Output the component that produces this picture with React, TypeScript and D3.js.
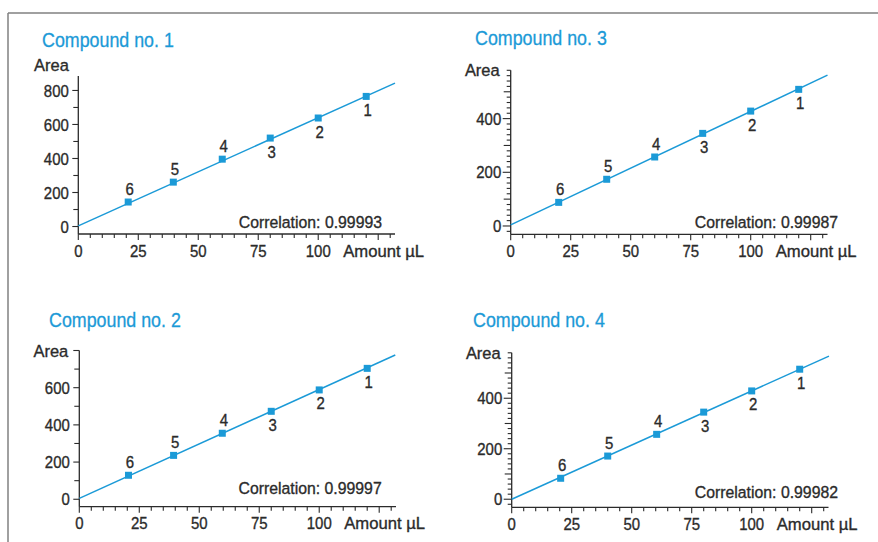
import React from 'react';
import * as d3 from 'd3';

// values
const titles = ['Compound no. 1', 'Compound no. 3', 'Compound no. 2', 'Compound no. 4'];
const correlations = ['0.99993', '0.99987', '0.99997', '0.99982'];
const pointLabels = ['1', '2', '3', '4', '5', '6'];

const amounts1 = [120, 100, 80, 60, 39.6, 20.8];
const areas1 = [765, 638, 520, 396, 261, 144];
const amounts3 = [120, 100, 80, 60, 40, 20];
const areas3 = [509, 428, 345, 257, 174, 88];
const amounts2 = [120, 100, 80, 59.6, 39.3, 20.5];
const areas2 = [704, 588, 473, 355, 236, 129];
const amounts4 = [120, 100, 80, 60.4, 40, 20.4];
const areas4 = [515, 429, 345, 257, 171, 83];

// fitted lines: two end points each
const fitX1 = [0, 132];
const fitY1 = [4, 843];
const fitX3 = [0, 132];
const fitY3 = [4, 562];
const fitX2 = [0, 131.7];
const fitY2 = [5, 776];
const fitX4 = [0, 132.2];
const fitY4 = [0, 567];

const xTickLabels = [0, 25, 50, 75, 100];
const yTickLabels1 = [0, 200, 400, 600, 800];
const yTickLabels3 = [0, 200, 400];
const yTickLabels2 = [0, 200, 400, 600];
const yTickLabels4 = [0, 200, 400];

const BLUE = '#1b9ad7';
const INK = '#2b2b2b';
const FONT = '"Liberation Sans", Arial, sans-serif';

const panels = [
  {
    title: titles[0], titlePos: [42, 47], amounts: amounts1, areas: areas1, fitX: fitX1, fitY: fitY1,
    yLabels: yTickLabels1, corr: correlations[0], corrPos: [382, 228],
    xRange: [78.3, 395], yRange: [234, 76], yDomain: [-44, 885],
    yMinor: 100, yMedium: 0, yMajor: 200, tickLen: [6, 6, 5], areaPos: [34, 71],
  },
  {
    title: titles[1], titlePos: [475, 45], amounts: amounts3, areas: areas3, fitX: fitX3, fitY: fitY3,
    yLabels: yTickLabels3, corr: correlations[1], corrPos: [838, 228],
    xRange: [510.7, 827.5], yRange: [234.3, 70.3], yDomain: [-31, 580],
    yMinor: 20, yMedium: 100, yMajor: 200, tickLen: [8, 7, 4], areaPos: null,
  },
  {
    title: titles[2], titlePos: [49, 327], amounts: amounts2, areas: areas2, fitX: fitX2, fitY: fitY2,
    yLabels: yTickLabels2, corr: correlations[2], corrPos: [381.7, 494.3],
    xRange: [79.3, 396], yRange: [506.7, 350.5], yDomain: [-40, 800],
    yMinor: 100, yMedium: 0, yMajor: 200, tickLen: [6, 6, 5], areaPos: null,
  },
  {
    title: titles[3], titlePos: [473, 326.7], amounts: amounts4, areas: areas4, fitX: fitX4, fitY: fitY4,
    yLabels: yTickLabels4, corr: correlations[3], corrPos: [838, 498.3],
    xRange: [511.7, 828.5], yRange: [507.3, 352.8], yDomain: [-32, 580],
    yMinor: 20, yMedium: 100, yMajor: 200, tickLen: [8, 7, 4], areaPos: null,
  },
];

// the original face is a condensed one, so squeeze horizontally and thicken a little
function Label({ x, y, children, anchor = 'start', dy = '0', size = 17, sx = 0.88, fill = INK, weight = 0.35 }: any) {
  return (
    <text
      transform={`translate(${x},${y}) scale(${sx},1)`}
      dy={dy}
      textAnchor={anchor}
      fontSize={size}
      fill={fill}
      stroke={fill}
      strokeWidth={weight}
    >
      {children}
    </text>
  );
}

function Panel({ p }: { p: any }) {
  const x = d3.scaleLinear().domain([0, 132]).range(p.xRange);
  const y = d3.scaleLinear().domain(p.yDomain).range(p.yRange);
  const [xl, xr] = p.xRange;
  const [yb, yt] = p.yRange;

  const line = d3.line<number>().x((d) => x(d)).y((d, i) => y(p.fitY[i]));

  const yTicks = d3
    .range(Math.ceil(p.yDomain[0] / p.yMinor), Math.floor(p.yDomain[1] / p.yMinor) + 1)
    .map((k) => k * p.yMinor);
  const xTicks = d3.range(0, 27).map((k) => k * 5);
  const topTick = yTicks[yTicks.length - 1];

  const tickLen = (v: number) =>
    v % p.yMajor === 0 ? p.tickLen[0] : p.yMedium && v % p.yMedium === 0 ? p.tickLen[1] : p.tickLen[2];

  return (
    <g>
      <Label x={p.titlePos[0]} y={p.titlePos[1]} fill={BLUE} size={21} sx={0.85} weight={0.3}>
        {p.title}
      </Label>

      {/* axes */}
      <line x1={xl} x2={xl} y1={yb} y2={yt} stroke={INK} strokeWidth={1.3} />
      <line x1={xl} x2={xr} y1={yb} y2={yb} stroke={INK} strokeWidth={1.3} />

      {yTicks.map((v) => (
        <line key={'y' + v} x1={xl - tickLen(v)} x2={xl} y1={y(v)} y2={y(v)} stroke={INK} strokeWidth={1.1} />
      ))}
      {p.yLabels.map((v: number) => (
        <Label key={'yl' + v} x={xl - 9.5} y={y(v)} dy="0.36em" anchor="end">
          {v}
        </Label>
      ))}
      {p.areaPos ? (
        <Label x={p.areaPos[0]} y={p.areaPos[1]} sx={0.97}>Area</Label>
      ) : (
        <Label x={xl - 11} y={y(topTick)} dy="0.36em" anchor="end" sx={0.97}>Area</Label>
      )}

      {xTicks.map((v) => (
        <line key={'x' + v} x1={x(v)} x2={x(v)} y1={yb} y2={yb + (v % 25 === 0 ? 6 : 4)} stroke={INK} strokeWidth={1.1} />
      ))}
      {xTickLabels.map((v) => (
        <Label key={'xl' + v} x={x(v)} y={yb + 22.5} anchor="middle">
          {v}
        </Label>
      ))}
      <Label x={x(110.4)} y={yb + 22.5} sx={0.98}>Amount µL</Label>

      {/* fit line and points */}
      <path d={line(p.fitX) || ''} fill="none" stroke={BLUE} strokeWidth={1.5} />
      {p.amounts.map((a: number, i: number) => (
        <rect key={'p' + i} x={x(a) - 3.5} y={y(p.areas[i]) - 3.5} width={7} height={7} fill={BLUE} />
      ))}
      {p.amounts.map((a: number, i: number) => (
        <Label key={'pl' + i} x={x(a) + 1.5} y={y(p.areas[i]) + (i < 3 ? 19.5 : -7)} anchor="middle">
          {pointLabels[i]}
        </Label>
      ))}

      <Label x={p.corrPos[0]} y={p.corrPos[1]} anchor="end" sx={0.93}>
        {'Correlation: ' + p.corr}
      </Label>
    </g>
  );
}

export default function App() {
  return (
    <svg
      width={878}
      height={542}
      style={{ position: 'absolute', left: 0, top: 0, background: '#fff' }}
      fontFamily={FONT}
    >
      <rect width={878} height={542} fill="#fff" />
      <line x1={8} x2={878} y1={13} y2={13} stroke="#808080" strokeWidth={1.5} />
      <line x1={8} x2={8} y1={13} y2={542} stroke="#808080" strokeWidth={1.5} />
      {panels.map((p, i) => (
        <Panel key={i} p={p} />
      ))}
    </svg>
  );
}
